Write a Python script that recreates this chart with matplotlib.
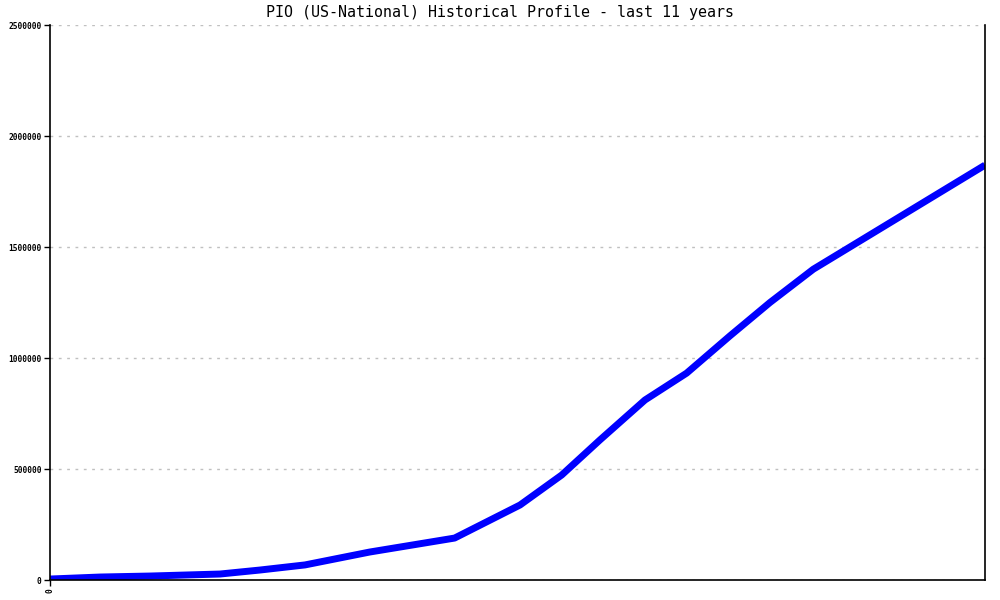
import matplotlib
matplotlib.use("Agg")
import matplotlib.pyplot as plt

# points, x in years over the last 11 years
years = [0, 0.59, 1.18, 2.0, 2.47, 3.0, 3.76, 4.76, 5.53, 6.02, 6.47, 7.0,
         7.49, 8.0, 8.47, 8.98, 11]
values = [4500, 13500, 18000, 27000, 45000, 68000, 126000, 189000, 338000,
          473000, 631000, 811000, 932000, 1100000, 1250000, 1400000, 1869000]
yticks = [0, 500000, 1000000, 1500000, 2000000, 2500000]

fig = plt.figure(figsize=(10, 6), dpi=100)
ax = fig.add_axes([0.05, 0.0333, 0.935, 0.925])

ax.plot(years, values, color="#0000ff", linewidth=5, solid_capstyle="butt",
        solid_joinstyle="round")

ax.set_xlim(0, 11)
ax.set_ylim(0, 2500000)
ax.set_yticks(yticks)
ax.set_yticklabels([str(v) for v in yticks], family="DejaVu Sans Mono",
                   fontsize=5.7, fontweight="bold")
ax.set_xticks([0])
ax.set_xticklabels(["0"], rotation=90, family="DejaVu Sans Mono",
                   fontsize=5.7, fontweight="bold")
ax.tick_params(axis="both", direction="out", length=4, width=1, color="black",
               pad=2)

ax.grid(axis="y", color="#c0c0c0", linestyle=(0, (2, 4)), linewidth=1)
ax.set_axisbelow(True)
ax.spines["top"].set_visible(False)
for s in ["left", "right", "bottom"]:
    ax.spines[s].set_color("black")
    ax.spines[s].set_linewidth(1.2)

fig.text(0.5, 1 - 13 / 600, "PIO (US-National) Historical Profile - last 11 years",
         ha="center", va="center", family="DejaVu Sans Mono", fontsize=10.8)

fig.savefig("out.png", dpi=100)
